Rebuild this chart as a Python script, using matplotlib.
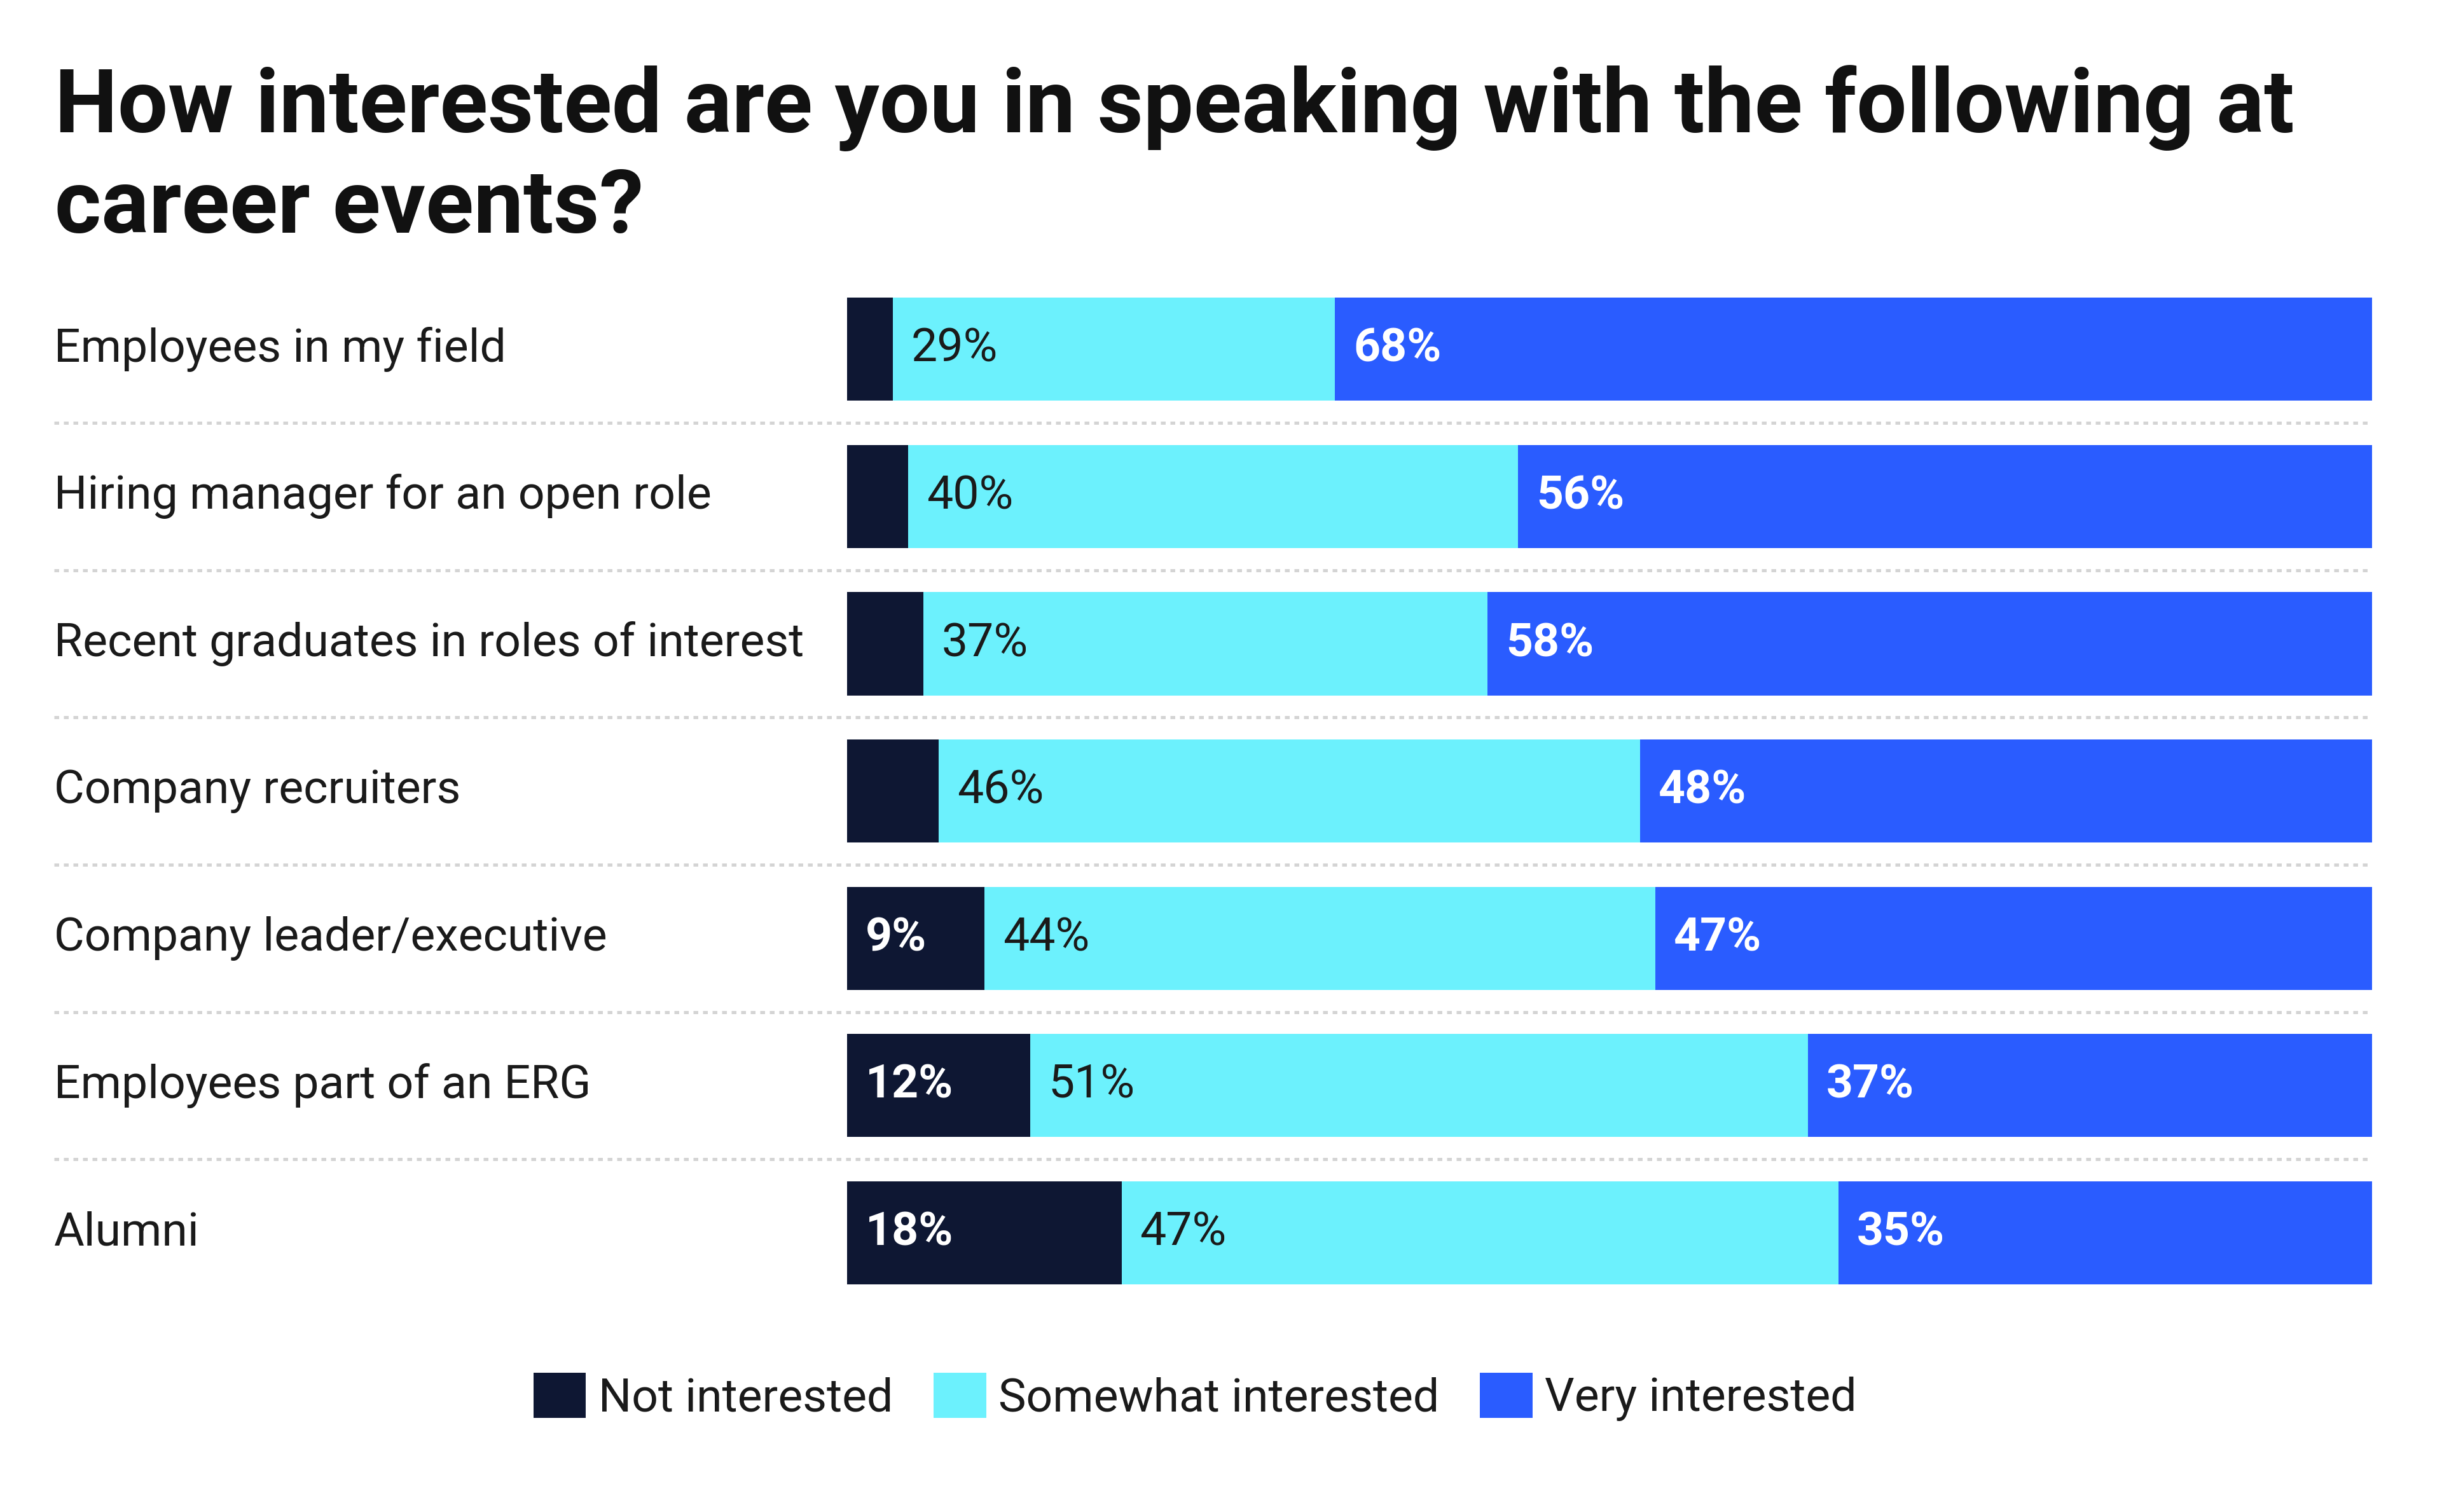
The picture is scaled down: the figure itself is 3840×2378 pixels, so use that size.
import matplotlib
matplotlib.use('Agg')

from matplotlib import pyplot as plt
from matplotlib.patches import Patch
import matplotlib.transforms as mtransforms

plt.rcParams['font.family'] = ['Roboto', 'DejaVu Sans']

categories = ['Employees in my field',
              'Hiring manager for an open role',
              'Recent graduates in roles of interest',
              'Company recruiters',
              'Company leader/executive',
              'Employees part of an ERG',
              'Alumni']
not_interested = [3, 4, 5, 6, 9, 12, 18]
somewhat_interested = [29, 40, 37, 46, 44, 51, 47]
very_interested = [68, 56, 58, 48, 47, 37, 35]
series_names = ['Not interested', 'Somewhat interested', 'Very interested']

colors = ['#0e1733', '#6cf1fd', '#2a5cff']
label_colors = ['white', '#1a1a1a', 'white']
label_weights = ['bold', 'normal', 'bold']

fig = plt.figure(figsize=(16, 2378 / 240), dpi=240)
ax = fig.add_axes([0.3469, 0.1359, 0.6244, 0.6818])

ypos = list(range(len(categories)))
left = [0] * len(categories)
for s, vals in enumerate([not_interested, somewhat_interested, very_interested]):
    ax.barh(ypos, vals, left=left, height=0.70, color=colors[s], edgecolor='none')
    for i, v in enumerate(vals):
        if v >= 9:
            ax.text(left[i] + 1.2, i, '%d%%' % v, va='center', ha='left',
                    fontsize=22, color=label_colors[s], fontweight=label_weights[s])
    left = [a + b for a, b in zip(left, vals)]

ax.set_xlim(0, 100)
ax.set_ylim(len(categories) - 0.5, -0.5)
ax.axis('off')

trans = mtransforms.blended_transform_factory(ax.transAxes, ax.transData)
for i, cat in enumerate(categories):
    ax.text(-0.52, i, cat, transform=trans, va='center', ha='left',
            fontsize=22, color='#1a1a1a')
    if i < len(categories) - 1:
        ax.plot([-0.52, 1], [i + 0.5, i + 0.5], transform=trans, clip_on=False,
                color='#d4d4d4', lw=1.5, linestyle=(0, (1.5, 1.5)))

fig.text(0.0223, 0.957, 'How interested are you in speaking with the following at\ncareer events?',
         ha='left', va='top', fontsize=42, fontweight='bold', color='#111111',
         linespacing=1.22)

handles = [Patch(facecolor=c, edgecolor='none') for c in colors]
fig.legend(handles, series_names, loc='center', bbox_to_anchor=(0.4895, 0.0762),
           ncol=3, frameon=False, fontsize=22, handlelength=1.12, handleheight=1.12,
           handletextpad=0.27, columnspacing=0.87, labelcolor='#1a1a1a')

plt.savefig('out.png', dpi=240, facecolor='white')
plt.close()
